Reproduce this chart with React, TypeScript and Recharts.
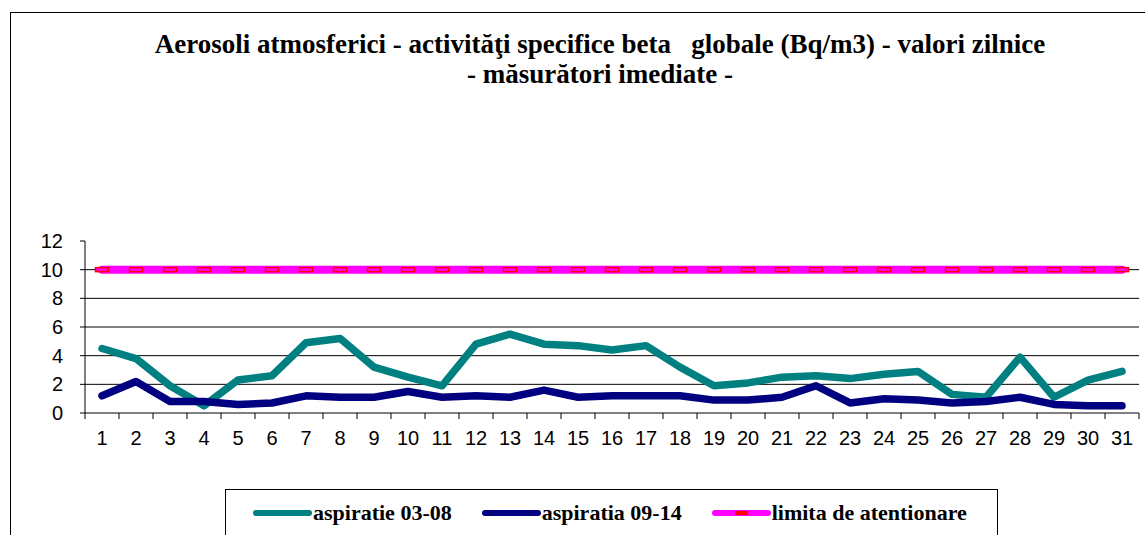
import { LineChart, Line, XAxis, YAxis, CartesianGrid } from 'recharts';

// days of the month (categories)
const DAYS = [1, 2, 3, 4, 5, 6, 7, 8, 9, 10, 11, 12, 13, 14, 15, 16, 17, 18, 19, 20, 21, 22, 23, 24, 25, 26, 27, 28, 29, 30, 31];

// Bq/m3
const ASPIRATIE_03_08 = [4.5, 3.8, 1.9, 0.5, 2.3, 2.6, 4.9, 5.2, 3.2, 2.5, 1.9, 4.8, 5.5, 4.8, 4.7, 4.4, 4.7, 3.2, 1.9, 2.1, 2.5, 2.6, 2.4, 2.7, 2.9, 1.3, 1.1, 3.9, 1.1, 2.3, 2.9];
const ASPIRATIA_09_14 = [1.2, 2.2, 0.8, 0.8, 0.6, 0.7, 1.2, 1.1, 1.1, 1.5, 1.1, 1.2, 1.1, 1.6, 1.1, 1.2, 1.2, 1.2, 0.9, 0.9, 1.1, 1.9, 0.7, 1.0, 0.9, 0.7, 0.8, 1.1, 0.6, 0.5, 0.5];
const LIMITA = [10, 10, 10, 10, 10, 10, 10, 10, 10, 10, 10, 10, 10, 10, 10, 10, 10, 10, 10, 10, 10, 10, 10, 10, 10, 10, 10, 10, 10, 10, 10];

const Y_TICKS = [0, 2, 4, 6, 8, 10, 12];
const GRID_VALUES = [2, 4, 6, 8, 10];

const SERIES = [
  { key: 'a0308', name: 'aspiratie 03-08', color: '#008080' },
  { key: 'a0914', name: 'aspiratia 09-14', color: '#000080' },
  { key: 'limita', name: 'limita de atentionare', color: '#FF00FF' },
];

const data = DAYS.map((day, i) => ({
  day,
  a0308: ASPIRATIE_03_08[i],
  a0914: ASPIRATIA_09_14[i],
  limita: LIMITA[i],
}));

// labels at the days, tick marks between them (Excel style)
const X_TICKS = [...DAYS.map((d) => d - 0.5), DAYS[DAYS.length - 1] + 0.5, ...DAYS];

const serif = '"Liberation Serif", "Times New Roman", serif';
const sans = '"Liberation Sans", Arial, sans-serif';

function DayTick(props: any) {
  const { x, y, payload } = props;
  if (!Number.isInteger(payload.value)) {
    return <line x1={x} x2={x} y1={y} y2={y + 6} stroke="#000" />;
  }
  return (
    <text x={x} y={y + 32} textAnchor="middle" fontSize={20} fontFamily={sans} fill="#000">
      {payload.value}
    </text>
  );
}

function DashMarker(props: any) {
  const { cx, cy } = props;
  if (cx == null || cy == null) return null;
  return <rect x={cx - 6.5} y={cy - 2} width={13} height={4} fill="#FF00FF" stroke="#FF0000" strokeWidth={1.5} />;
}

export default function App() {
  return (
    <div style={{ position: 'absolute', left: 0, top: 0, width: 1145, height: 535, overflow: 'hidden', background: '#fff' }}>
      <div style={{ position: 'absolute', left: 10, top: 12, width: 1200, height: 600, border: '1px solid #000' }}>
        <div
          style={{
            position: 'absolute',
            left: 0,
            top: 16,
            width: 1178,
            textAlign: 'center',
            fontFamily: serif,
            fontWeight: 'bold',
            fontSize: 27,
            lineHeight: '30px',
            whiteSpace: 'pre',
          }}
        >
          {'Aerosoli atmosferici - activităţi specifice beta   globale (Bq/m3) - valori zilnice\n- măsurători imediate -'}
        </div>

        <LineChart width={1140} height={480} data={data} margin={{ top: 228, right: 12, left: 14, bottom: 40 }}>
          <CartesianGrid vertical={false} horizontalValues={GRID_VALUES} stroke="#000" />
          <XAxis
            dataKey="day"
            type="number"
            domain={[0.5, 31.5]}
            ticks={X_TICKS}
            interval={0}
            tickLine={false}
            tickSize={0}
            tickMargin={0}
            tick={<DayTick />}
            axisLine={{ stroke: '#000' }}
            height={40}
          />
          <YAxis
            domain={[0, 12]}
            ticks={Y_TICKS}
            interval={0}
            width={60}
            tickSize={5}
            tickMargin={17}
            axisLine={{ stroke: '#000' }}
            tickLine={{ stroke: '#000' }}
            tick={{ fill: '#000', fontSize: 20, fontFamily: sans }}
          />
          <Line
            dataKey="a0308"
            stroke="#008080"
            strokeWidth={7.5}
            strokeLinecap="round"
            strokeLinejoin="round"
            dot={false}
            activeDot={false}
            isAnimationActive={false}
          />
          <Line
            dataKey="a0914"
            stroke="#000080"
            strokeWidth={7.5}
            strokeLinecap="round"
            strokeLinejoin="round"
            dot={false}
            activeDot={false}
            isAnimationActive={false}
          />
          <Line
            dataKey="limita"
            stroke="#FF00FF"
            strokeWidth={8}
            strokeLinecap="round"
            dot={<DashMarker />}
            activeDot={false}
            isAnimationActive={false}
          />
        </LineChart>

        <div
          style={{
            position: 'absolute',
            left: 214,
            top: 476,
            width: 771,
            height: 80,
            border: '1px solid #000',
            fontFamily: serif,
            fontWeight: 'bold',
            fontSize: 22,
          }}
        >
          <div style={{ display: 'flex', alignItems: 'center', height: 24, marginTop: 11, paddingLeft: 27, gap: 30 }}>
            {SERIES.map((s) => (
              <div key={s.key} style={{ display: 'flex', alignItems: 'center' }}>
                <span
                  style={{
                    position: 'relative',
                    display: 'inline-block',
                    width: 59,
                    height: 6,
                    borderRadius: 3,
                    background: s.color,
                    marginRight: 1,
                  }}
                >
                  {s.key === 'limita' && (
                    <span style={{ position: 'absolute', left: 23, top: 1, width: 13, height: 4, background: '#FF0000' }} />
                  )}
                </span>
                <span>{s.name}</span>
              </div>
            ))}
          </div>
        </div>
      </div>
    </div>
  );
}
